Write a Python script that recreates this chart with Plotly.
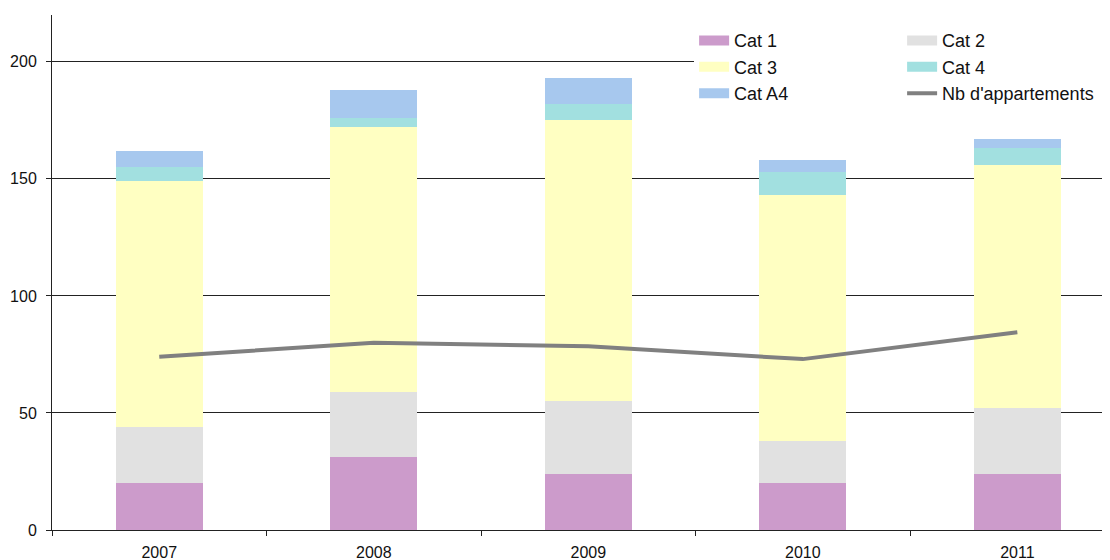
"""Stacked bars per year with apartment count line (Excel-like style)."""

import plotly.graph_objects as go

years = ["2007", "2008", "2009", "2010", "2011"]
cat1 = [20, 31, 24, 20, 24]
cat2 = [24, 28, 31, 18, 28]
cat3 = [105, 113, 120, 105, 104]
cat4 = [6, 4, 7, 10, 7]
cat_a4 = [7, 12, 11, 5, 4]
nb_appartements = [74, 80, 78.5, 73, 84.5]

series_names = ["Cat 1", "Cat 2", "Cat 3", "Cat 4", "Cat A4"]
series_values = [cat1, cat2, cat3, cat4, cat_a4]
series_colors = ["#CC9BCB", "#E1E1E1", "#FFFFC2", "#A2E0E0", "#A7C8EE"]
line_color = "#808080"

fig = go.Figure()

# Stacked bars (legend drawn by separate swatch traces for wide swatches)
for name, vals, col in zip(series_names, series_values, series_colors):
    fig.add_trace(go.Bar(
        x=years, y=vals, name=name,
        marker=dict(color=col, line_width=0),
        width=0.405,
        showlegend=False,
    ))

# Legend swatches
for name, col in zip(series_names, series_colors):
    fig.add_trace(go.Scatter(
        x=[None], y=[None], mode="lines", name=name,
        line=dict(color=col, width=10),
    ))

fig.add_trace(go.Scatter(
    x=years, y=nb_appartements, mode="lines", name="Nb d'appartements",
    line=dict(color=line_color, width=4),
))

# page body has an 8px margin, so the figure is shrunk by that much
fig.update_layout(
    barmode="stack",
    width=1102, height=552,
    margin=dict(l=44, r=0, t=7, b=30, autoexpand=False),
    plot_bgcolor="white", paper_bgcolor="white",
    font=dict(family="Liberation Sans, Arial, sans-serif", size=16, color="#111"),
    legend=dict(
        orientation="h",
        # x just past 1 keeps the legend to half the plot width -> two columns
        x=1.0001, xanchor="right",
        y=0.986, yanchor="top",
        entrywidth=163, entrywidthmode="pixels",
        bgcolor="white",
        font=dict(size=18, color="#111"),
        traceorder="normal",
    ),
)

fig.update_xaxes(
    range=[-0.5, 4.432],
    showgrid=False,
    showline=True, linecolor="#222", linewidth=1,
    ticks="outside", tickson="boundaries", ticklen=5, tickcolor="#222",
    ticklabelstandoff=8,
)
fig.update_yaxes(
    range=[0, 220],
    tickvals=[0, 50, 100, 150, 200],
    showgrid=True, gridcolor="#222", gridwidth=1,
    zeroline=False,
    showline=True, linecolor="#222", linewidth=1,
    ticks="outside", ticklen=5, tickcolor="#222",
    ticklabelstandoff=6,
)

fig.write_html("out.html")
